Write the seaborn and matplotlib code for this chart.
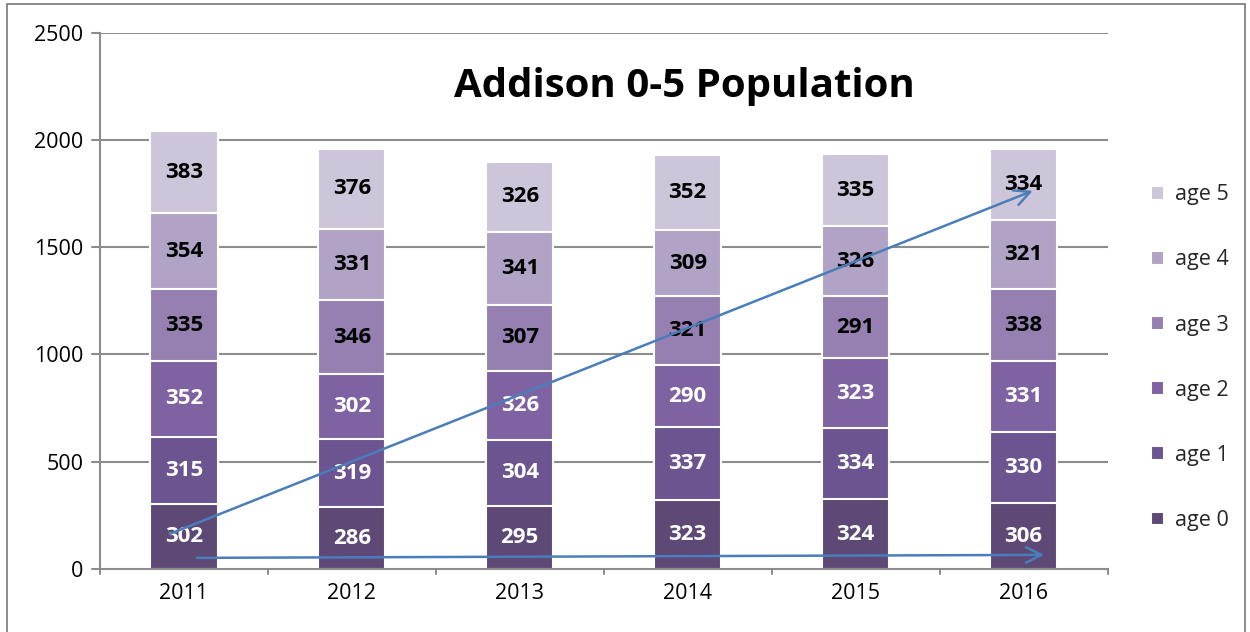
import matplotlib.pyplot as plt
import numpy as np
import pandas as pd
import seaborn as sns
from matplotlib.patches import Rectangle

years = ["2011", "2012", "2013", "2014", "2015", "2016"]
ages = ["age 0", "age 1", "age 2", "age 3", "age 4", "age 5"]
age0 = [302, 286, 295, 323, 324, 306]
age1 = [315, 319, 304, 337, 334, 330]
age2 = [352, 302, 326, 290, 323, 331]
age3 = [335, 346, 307, 321, 291, 338]
age4 = [354, 331, 341, 309, 326, 321]
age5 = [383, 376, 326, 352, 335, 334]
colors = ["#5d4876", "#6c5491", "#7f62a2", "#9580b1", "#b0a3c5", "#cdc5da"]
label_colors = ["white", "white", "white", "black", "black", "black"]

# trend arrows drawn on the chart (x in category units, y in data units)
arrow_up = [(-0.10, 158), (5.07, 1768)]
arrow_flat = [(0.06, 51), (5.14, 65)]

sns.set_style("white")
plt.rcParams["font.family"] = ["Open Sans", "DejaVu Sans"]

series = [age0, age1, age2, age3, age4, age5]
df = pd.DataFrame({a: s for a, s in zip(ages, series)}, index=years)
cum = df.cumsum(axis=1)

fig = plt.figure(figsize=(12.5, 6.32), dpi=100)
ax = fig.add_axes([0.08, 0.1, 0.806, 0.848])

for y in [500, 1000, 1500, 2000, 2500]:
    ax.axhline(y, color="#8c8c8c", lw=1.5, zorder=0)

# draw cumulative heights from the top layer down so each stack shows
for i in range(len(ages) - 1, -1, -1):
    sns.barplot(x=list(years), y=cum[ages[i]].values, color=colors[i], width=0.4,
                edgecolor="white", linewidth=1.5, saturation=1, ax=ax, zorder=2,
                label=ages[i])

for i, a in enumerate(ages):
    bottoms = cum[a].values - df[a].values
    for j, v in enumerate(df[a].values):
        ax.text(j, bottoms[j] + v / 2, str(v), ha="center", va="center",
                fontsize=16, fontweight="bold", color=label_colors[i], zorder=4)

for (x0, y0), (x1, y1) in [arrow_up, arrow_flat]:
    ax.annotate("", xy=(x1, y1), xytext=(x0, y0),
                arrowprops=dict(arrowstyle="->", color="#4a7ebb", lw=1.8,
                                mutation_scale=28), zorder=5)

ax.set_ylim(0, 2500)
ax.set_xlim(-0.5, 5.5)
ax.set_yticks([0, 500, 1000, 1500, 2000, 2500])
ax.set_xticks(np.arange(len(years)))
ax.set_xticklabels(years)
ax.set_xlabel("")
ax.set_ylabel("")
ax.tick_params(axis="both", labelsize=15.5, colors="black", length=0, pad=10)
ax.tick_params(axis="y", pad=12)
for s in ["top", "right"]:
    ax.spines[s].set_visible(False)
for s in ["left", "bottom"]:
    ax.spines[s].set_color("#8c8c8c")
    ax.spines[s].set_linewidth(1.5)

# small tick marks like the original
for y in [0, 500, 1000, 1500, 2000, 2500]:
    ax.plot([-0.545, -0.5], [y, y], color="#8c8c8c", lw=1.5, clip_on=False)
for x in np.arange(-0.5, 6, 1):
    ax.plot([x, x], [0, -25], color="#8c8c8c", lw=1.5, clip_on=False)

ax.text(2.98, 2250, "Addison 0-5 Population", ha="center", va="center",
        fontsize=29, fontweight="bold", color="black")

handles, labels = ax.get_legend_handles_labels()
order = sorted(range(len(labels)), key=lambda k: labels[k], reverse=True)
leg = ax.legend([handles[k] for k in order], [labels[k] for k in order],
                loc="center left", bbox_to_anchor=(1.024, 0.394), frameon=False,
                fontsize=15.5, handlelength=0.6, handleheight=0.6,
                labelspacing=2.05, handletextpad=0.5)

fig.patches.append(Rectangle((0.0056, -0.01), 0.99, 1.004, transform=fig.transFigure,
                             fill=False, edgecolor="#777777", lw=1.2))

fig.savefig("out.png", dpi=100)
